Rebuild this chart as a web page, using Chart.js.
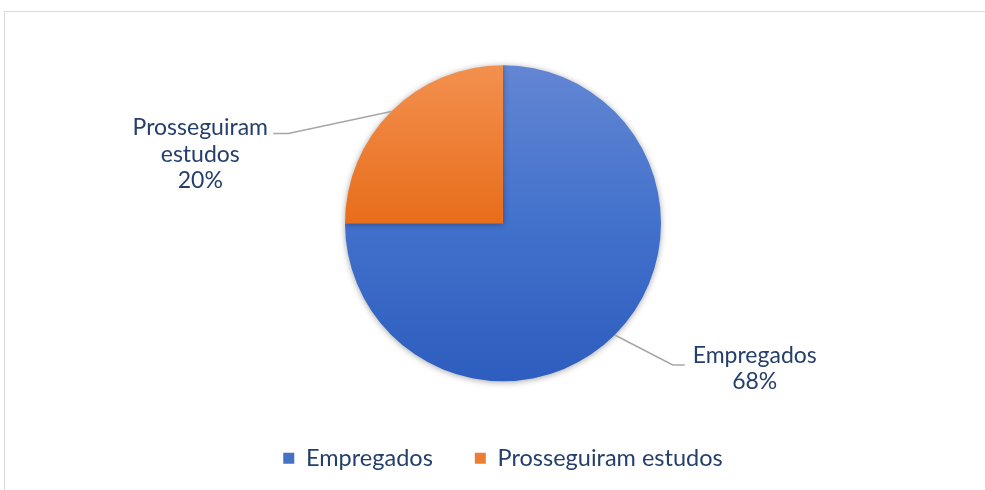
<!DOCTYPE html>
<html>
<head>
<meta charset="utf-8">
<script src="https://cdn.jsdelivr.net/npm/chart.js@4.4.1/dist/chart.umd.min.js"></script>
<style>
  html, body { margin: 0; padding: 0; background: #fff; }
  #wrap { position: absolute; left: 0; top: 0; width: 985px; height: 490px; }
  #frame { position: absolute; left: 4px; top: 11px; width: 990px; height: 490px;
           border-left: 1px solid #d9d9d9; border-top: 1px solid #d9d9d9; }
  canvas { position: absolute; left: 0; top: 0; }
</style>
</head>
<body>
<div id="wrap">
  <div id="frame"></div>
  <canvas id="pie" width="985" height="490"></canvas>
</div>
<script>
var categories = ["Empregados", "Prosseguiram estudos"];
// slice sizes as drawn (3/4 and 1/4 of the pie)
var shares = [75, 25];
// percentage labels as printed on the chart
var pctLabels = ["68%", "20%"];

var textColor = "#243f6b";
var fontFamily = "Lato, 'Open Sans', sans-serif";
var pieRadius = 158;

function sliceFill(context) {
	var chart = context.chart;
	var area = chart.chartArea;
	if (!area || !isFinite(area.top) || !isFinite(area.bottom)) {
		return context.dataIndex == 0 ? "#4472c4" : "#ed7d31";
	}
	var cy = (area.top + area.bottom) / 2;
	var g = chart.ctx.createLinearGradient(0, cy - pieRadius, 0, cy + pieRadius);
	if (context.dataIndex == 0) {
		g.addColorStop(0, "#6386d3");
		g.addColorStop(0.5, "#4271cc");
		g.addColorStop(1, "#2d5dbe");
	} else {
		g.addColorStop(0, "#f3904f");
		g.addColorStop(0.5, "#e86d1b");
		g.addColorStop(1, "#d85f10");
	}
	return g;
}

var shadowPlugin = {
	id: "shadow",
	beforeDatasetsDraw: function(chart) {
		var ctx = chart.ctx;
		ctx.save();
		ctx.shadowColor = "rgba(0,0,0,0.35)";
		ctx.shadowBlur = 6;
		ctx.shadowOffsetX = 0;
		ctx.shadowOffsetY = 1;
	},
	afterDatasetsDraw: function(chart) {
		chart.ctx.restore();
	}
};

var labelPlugin = {
	id: "sliceLabels",
	afterDraw: function(chart) {
		var ctx = chart.ctx;
		var meta = chart.getDatasetMeta(0);
		ctx.save();
		ctx.font = "23px " + fontFamily;
		ctx.fillStyle = textColor;
		ctx.textAlign = "center";
		ctx.textBaseline = "middle";
		ctx.strokeStyle = "#a6a6a6";
		ctx.lineWidth = 1.5;
		meta.data.forEach(function(arc, i) {
			var p = arc.getProps(["x", "y", "startAngle", "endAngle", "outerRadius"], true);
			var mid = (p.startAngle + p.endAngle) / 2;
			var sx = p.x + Math.cos(mid) * p.outerRadius;
			var sy = p.y + Math.sin(mid) * p.outerRadius;
			ctx.beginPath();
			ctx.moveTo(sx, sy);
			if (i == 0) {
				var ex = sx + 58, ey = sy + 30;
				ctx.lineTo(ex, ey);
				ctx.lineTo(ex + 12, ey);
				ctx.stroke();
				var tx = ex + 12 + 70;
				ctx.fillText(categories[0], tx, ey - 9);
				ctx.fillText(pctLabels[0], tx, ey + 17);
			} else {
				var ex2 = sx - 103, ey2 = sy + 22;
				ctx.lineTo(ex2, ey2);
				ctx.lineTo(ex2 - 15, ey2);
				ctx.stroke();
				var tx2 = ex2 - 15 - 73;
				ctx.fillText("Prosseguiram", tx2, ey2 - 6);
				ctx.fillText("estudos", tx2, ey2 + 21);
				ctx.fillText(pctLabels[1], tx2, ey2 + 47);
			}
		});
		ctx.restore();
	}
};

var pieChart = new Chart(document.getElementById("pie").getContext("2d"), {
	type: "pie",
	data: {
		labels: categories,
		datasets: [{
			data: shares,
			backgroundColor: sliceFill,
			borderWidth: 0
		}]
	},
	options: {
		responsive: false,
		animation: false,
		radius: pieRadius,
		layout: { padding: { top: 42, bottom: 10, left: 21, right: 0 } },
		plugins: {
			tooltip: { enabled: false },
			legend: {
				position: "bottom",
				labels: {
					boxWidth: 11,
					boxHeight: 11,
					padding: 42,
					color: textColor,
					font: { size: 23.5, family: fontFamily },
					generateLabels: function(chart) {
						var fills = ["#4472c4", "#ed7d31"];
						return categories.map(function(c, i) {
							return { text: c, fillStyle: fills[i], strokeStyle: fills[i], lineWidth: 0, index: i, fontColor: textColor };
						});
					}
				}
			}
		}
	},
	plugins: [shadowPlugin, labelPlugin]
});
</script>
</body>
</html>
